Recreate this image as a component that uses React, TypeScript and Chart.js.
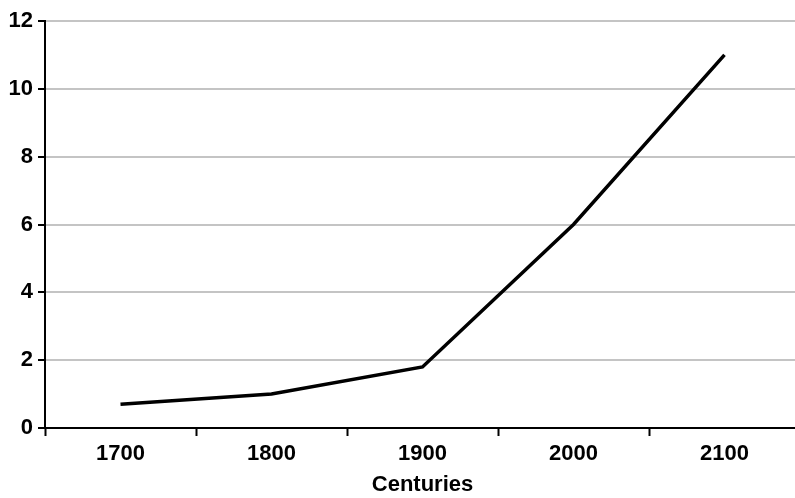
import React, { useEffect, useRef } from "react";
import { Chart, registerables } from "chart.js";

Chart.register(...registerables);

const categories = ["1700", "1800", "1900", "2000", "2100"];
const values = [0.7, 1.0, 1.8, 6.0, 11.0];
const yMin = 0;
const yMax = 12;
const yStep = 2;
const xTitle = "Centuries";

const FONT = "'Liberation Sans', Arial, sans-serif";

export default function App() {
  const ref = useRef<HTMLCanvasElement | null>(null);
  useEffect(() => {
    if (!ref.current) return;
    const chart = new Chart(ref.current, {
      type: "line",
      data: {
        labels: categories,
        datasets: [
          {
            data: values,
            borderColor: "#000",
            borderWidth: 3.5,
            pointRadius: 0,
            tension: 0,
            fill: false,
          },
        ],
      },
      options: {
        animation: false,
        responsive: false,
        maintainAspectRatio: false,
        layout: { padding: { top: 21, right: 0, left: 0, bottom: 0 } },
        plugins: { legend: { display: false }, tooltip: { enabled: false } },
        scales: {
          x: {
            offset: true,
            grid: {
              offset: true,
              drawOnChartArea: false,
              drawTicks: true,
              tickLength: 8,
              tickColor: "#000",
              tickWidth: 2,
            },
            border: { color: "#000", width: 2 },
            ticks: {
              color: "#000",
              font: { family: FONT, size: 22, weight: "bold" },
              padding: 5,
              maxRotation: 0,
            },
            title: {
              display: true,
              text: xTitle,
              color: "#000",
              font: { family: FONT, size: 22, weight: "bold" },
              padding: { top: 3, bottom: 0 },
            },
            afterFit: (s: any) => {
              s.height = 70;
            },
          },
          y: {
            min: yMin,
            max: yMax,
            ticks: {
              stepSize: yStep,
              color: "#000",
              font: { family: FONT, size: 22, weight: "bold" },
              padding: 5,
            },
            grid: {
              color: "#c4c4c4",
              lineWidth: 2,
              tickColor: "#000",
              tickWidth: 2,
              tickLength: 7,
            },
            border: { color: "#000", width: 2 },
            afterFit: (s: any) => {
              s.width = 45;
            },
          },
        },
      },
    });
    return () => chart.destroy();
  }, []);
  return (
    <div style={{ position: "fixed", left: 0, top: 0, width: 795, height: 498, overflow: "hidden", background: "#fff" }}>
      <canvas ref={ref} width={800} height={498} style={{ display: "block", width: 800, height: 498 }} />
    </div>
  );
}
